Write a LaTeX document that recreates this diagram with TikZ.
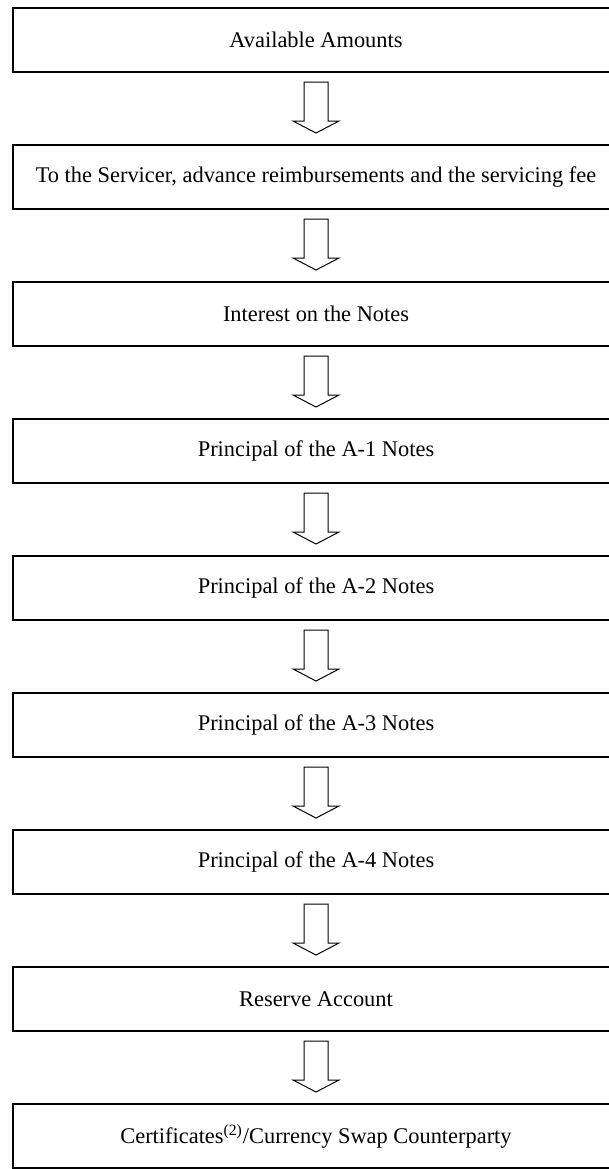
\documentclass[tikz,border=0pt]{standalone}
\usepackage{fontspec}
\setmainfont{Liberation Serif}
\usetikzlibrary{positioning,calc}

\tikzset{
    box/.style={rectangle,draw,line width=1pt,minimum height=32pt,minimum width=303pt,inner sep=0,
        font=\fontsize{11.2}{13}\selectfont},
    flow/.style={draw,line width=0.5pt,fill=white},
}

% hollow block arrow from one box down to the next
\newcommand{\flowarrow}[2]{%
    \draw[flow]
    ($(#1.south)+(-6pt,-4.5pt)$)--($(#1.south)+(6pt,-4.5pt)$)
    --($(#2.north)+(6pt,11.5pt)$)--($(#2.north)+(11.5pt,11.5pt)$)
    --($(#2.north)+(0,5.5pt)$)
    --($(#2.north)+(-11.5pt,11.5pt)$)--($(#2.north)+(-6pt,11.5pt)$)--cycle;}

\begin{document}
\begin{tikzpicture}[node distance=35.5pt]
    \path[use as bounding box,clip](0,0)rectangle(304.5pt,-584.5pt);

    \node[box,anchor=north west](avail)at(6pt,-3.5pt){Available Amounts};
    \node[box,below=of avail](serv){To the Servicer, advance reimbursements and the servicing fee};
    \node[box,below=of serv](int){Interest on the Notes};
    \node[box,below=of int](aone){Principal of the A-1 Notes};
    \node[box,below=of aone](atwo){Principal of the A-2 Notes};
    \node[box,below=of atwo](athree){Principal of the A-3 Notes};
    \node[box,below=of athree](afour){Principal of the A-4 Notes};
    \node[box,below=of afour](res){Reserve Account};
    \node[box,below=of res](cert){Certificates\textsuperscript{(2)}/Currency Swap Counterparty};

    \flowarrow{avail}{serv}
    \flowarrow{serv}{int}
    \flowarrow{int}{aone}
    \flowarrow{aone}{atwo}
    \flowarrow{atwo}{athree}
    \flowarrow{athree}{afour}
    \flowarrow{afour}{res}
    \flowarrow{res}{cert}

\end{tikzpicture}
\end{document}
